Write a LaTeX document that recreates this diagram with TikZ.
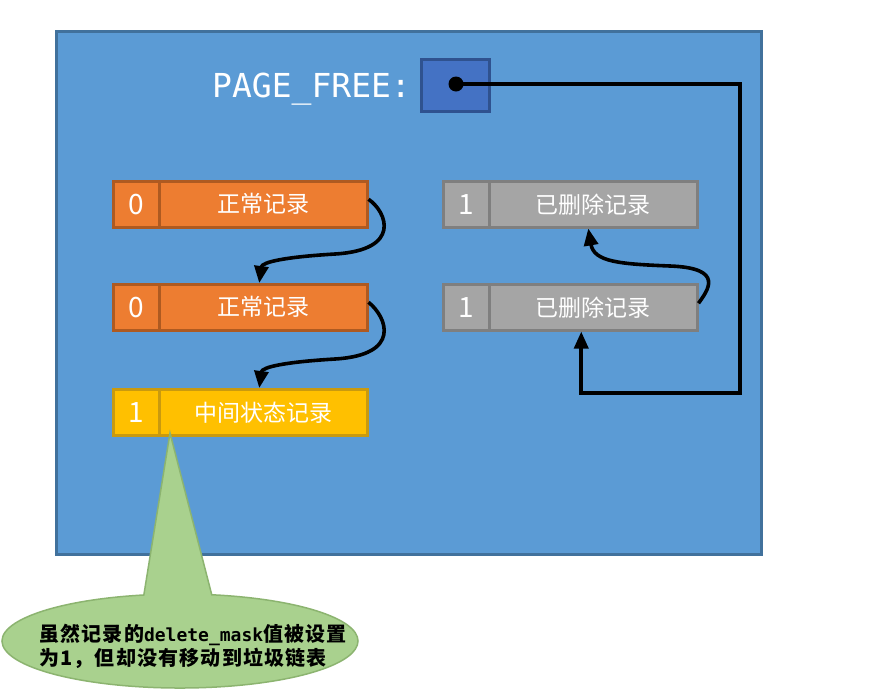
\documentclass[tikz,border=0pt]{standalone}
\usepackage{fontspec}
\newfontfamily\cjk{Noto Sans CJK SC}
\newfontfamily\cjknote{Noto Sans CJK SC}[LetterSpace=6]
\newfontfamily\mono{DejaVu Sans Mono}
\usetikzlibrary{arrows.meta,shapes.callouts}
\definecolor{bgblue}{HTML}{5B9BD5}
\definecolor{bgblueb}{HTML}{41719C}
\definecolor{pfboxf}{HTML}{4472C4}
\definecolor{pfboxb}{HTML}{2F528F}
\definecolor{recorange}{HTML}{ED7D31}
\definecolor{recorangeb}{HTML}{AE5A21}
\definecolor{recgray}{HTML}{A5A5A5}
\definecolor{recgrayb}{HTML}{7F7F7F}
\definecolor{recyellow}{HTML}{FFC000}
\definecolor{recyellowb}{HTML}{C99A0F}
\definecolor{calloutf}{HTML}{A9D18E}
\definecolor{calloutb}{HTML}{8CB470}
\tikzset{
  rec/.style={draw, line width=2.5pt, inner sep=0pt, minimum height=46pt, text=white, anchor=north west},
  numbox/.style={rec, minimum width=46pt, font=\cjk\fontsize{28}{28}\selectfont},
  txtbox/.style={rec, minimum width=208pt, font=\cjk\fontsize{23}{23}\selectfont},
  orangerec/.style={fill=recorange, draw=recorangeb},
  grayrec/.style={fill=recgray, draw=recgrayb},
  yellowrec/.style={fill=recyellow, draw=recyellowb},
  arr/.style={line width=3.6pt, -{Triangle[length=17pt,width=14pt]}},
}
\begin{document}
\begin{tikzpicture}[x=1pt,y=-1pt]
\useasboundingbox (0,0) rectangle (885,697);
\fill[white] (0,0) rectangle (885,697);
% page container
\node[draw=bgblueb, fill=bgblue, line width=3pt, minimum width=705pt, minimum height=523pt, anchor=north west, inner sep=0pt] (page) at (55,30) {};
% PAGE_FREE
\node[anchor=base west, text=white, inner sep=0pt, font=\mono\fontsize{33}{33}\selectfont] (pf) at (212,97) {PAGE\_FREE:};
\node[draw=pfboxb, fill=pfboxf, line width=3pt, minimum width=68pt, minimum height=52pt, anchor=north west, inner sep=0pt] (pfbox) at (420,58) {};
\node[circle, fill=black, minimum size=15pt, inner sep=0pt] (dot) at (456,84) {};
% left column
\node[numbox, orangerec] (a1n) at (112,180) {0};
\node[txtbox, orangerec] (a1t) at (158,180) {正常记录};
\node[numbox, orangerec] (a2n) at (112,283) {0};
\node[txtbox, orangerec] (a2t) at (158,283) {正常记录};
\node[numbox, yellowrec] (a3n) at (112,388) {1};
\node[txtbox, yellowrec] (a3t) at (158,388) {中间状态记录};
% right column
\node[numbox, grayrec] (d1n) at (442,180) {1};
\node[txtbox, grayrec] (d1t) at (488,180) {已删除记录};
\node[numbox, grayrec] (d2n) at (442,283) {1};
\node[txtbox, grayrec] (d2t) at (488,283) {已删除记录};
% arrows
\draw[arr] ([yshift=5pt]a1t.east) .. controls (387,212) and (402,250) .. (335,254) .. controls (285,257) and (262,262) .. ([xshift=-4pt]a2t.north);
\draw[arr] ([yshift=5pt]a2t.east) .. controls (387,317) and (402,355) .. (335,359) .. controls (285,362) and (262,367) .. ([xshift=-4pt]a3t.north);
\draw[arr] ([yshift=4pt]d2t.east) .. controls (708,290) and (725,268) .. (670,266) .. controls (620,264) and (594,262) .. ([xshift=-5pt]d1t.south);
\coordinate (c1) at (740,84);
\coordinate (c2) at (740,393);
\draw[arr] (dot.center) -- (c1) -- (c2) -| ([xshift=-12pt]d2t.south);
% callout
\coordinate (ptr) at (170,433);
\node[ellipse callout, draw=calloutb, fill=calloutf, line width=1.5pt, minimum width=356pt, minimum height=94pt, callout absolute pointer={(ptr)}, callout pointer arc=22] (callout) at (180,641) {};
\node[anchor=west, align=left, inner sep=0pt, font=\cjknote\bfseries\fontsize{20}{24}\selectfont] (note) at (39,646) {虽然记录的{\mono\bfseries\fontsize{18}{24}\selectfont delete\_mask}值被设置\\为1，但却没有移动到垃圾链表};
\end{tikzpicture}
\end{document}
